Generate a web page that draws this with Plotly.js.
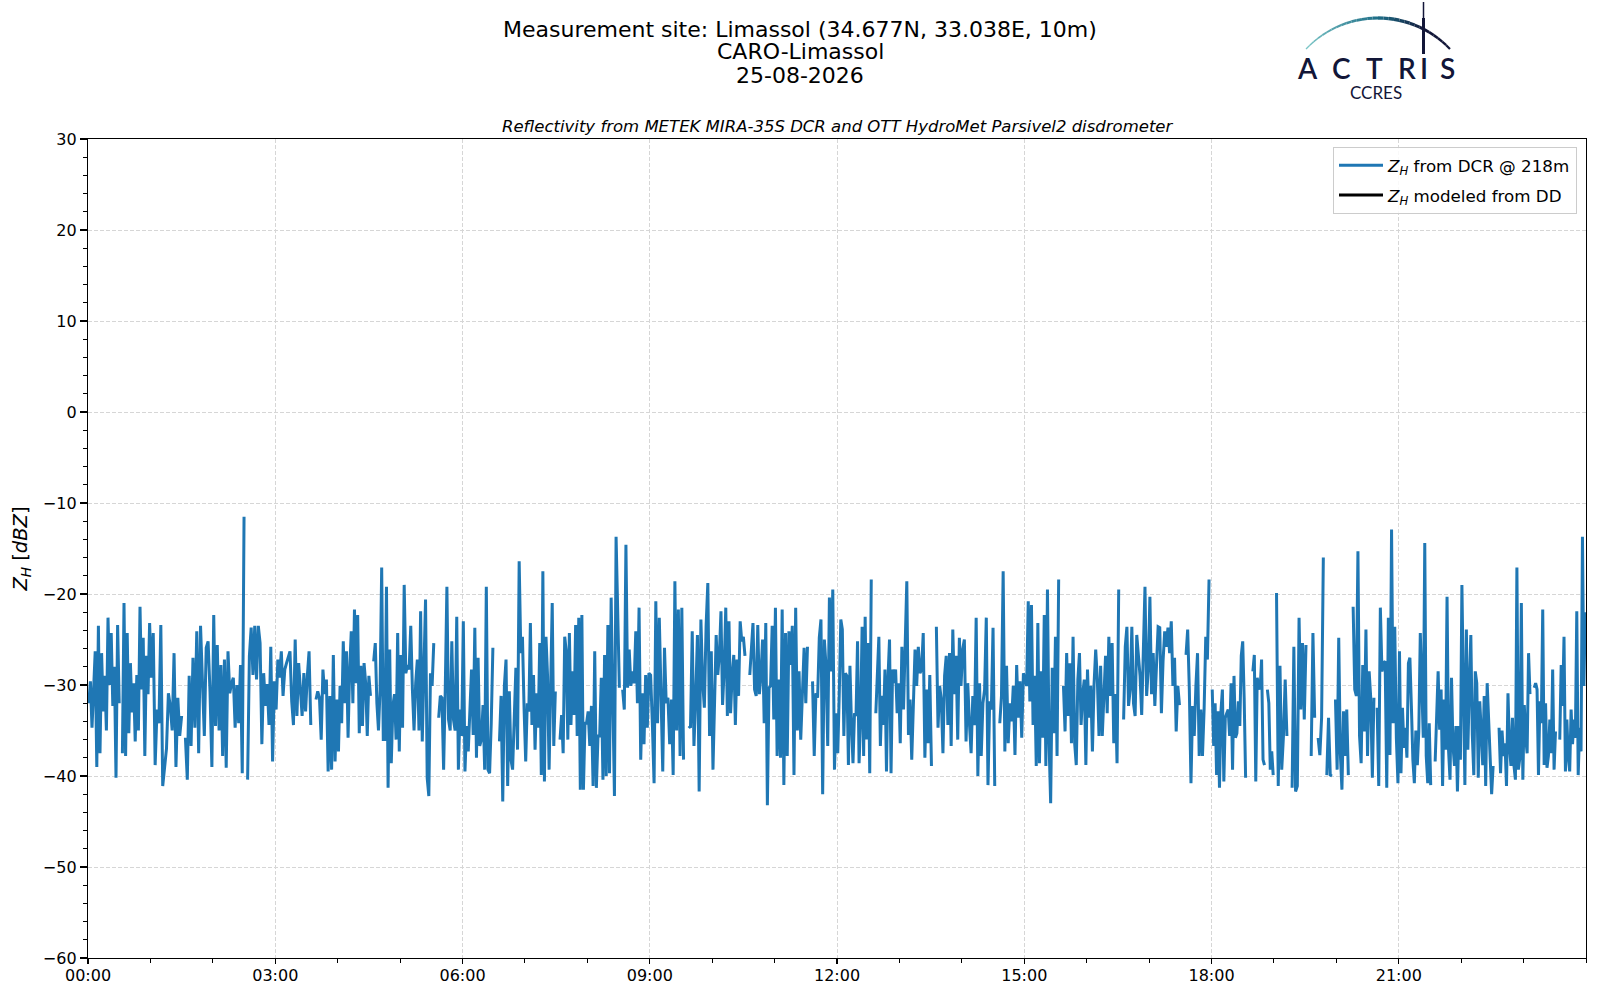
<!DOCTYPE html>
<html>
<head>
<meta charset="utf-8">
<script src="https://cdn.plot.ly/plotly-3.0.1.min.js"></script>
<style>html,body{margin:0;padding:0;background:#fff;}#chart{width:1600px;height:1000px;}</style>
</head>
<body>
<div id="chart"></div>
<script>
// ---- Data: Z_H from DCR @ 218m, one array per hour (dBZ), null = no data ----
const zh_h00 = [-32,-29.6,-34.7,-30.3,-26.3,-39,-23.5,-37.5,-26.5,-32.9,-29,-35,-22.6,-30,-24.3,-32.3,-28,-40.2,-23.4,-32,null,-37.5,-21,-37.8,-24.3,-35.3,-27.6,-33,-29.8,-36.2,-28.9,-35,-21.4,-30.5,-24.8,-37.8,-26.8,-31,-23.2];
const zh_h01 = [-29.2,-24.3,-38.8,-32.7,-34.2,-23.4,-41.1,-38.8,-37,-30.9,-32.3,-35,-26.5,-39,-31.4,-35.6,-33.4,null,-35.8,-40.4,-29,-36.7,-27,-34.7,-24.1,-37.5,-23.5,-29.4,-35.6,-25.9,-25.2,-30.7,-39];
const zh_h02 = [-22.3,-34.5,-25.6,-35,-27.8,-37.8,-27.2,-39.1,-26.3,-30.9,-29.8,-29.2,-34.7,-30,-34.2,-27.8,-39.7,-11.5,null,-40.4,-26.8,-23.7,-28.9,-23.5,-29.4,-23.5,-25.4,-36.5,-28.7,-32.3,-29.9,-34.4,-25.8,-38.4,-29.6];
const zh_h03 = [-32.7,-27.2,-29.2,-26.3,-31.2,-28.3,-27.6,-26.8,-26.3,-31.8,-34.4,-25,-33.4,-27.6,-30.5,-33.4,-28.7,-32.9,-29,-26.3,-34.4,null,null,-31.6,-30.7,-31.4,-36,-28.3,-31,-29.4,-39.5,-31.2,-39.3,-26.7,-38.4,-31.6];
const zh_h04 = [-37.3,-30.1,-34.2,-25.2,-32,-26.3,-35.8,-28.3,-24.1,-32,-21.7,-29.8,-22.3,-35.3,-27.9,-34.5,-27.6,-29.8,-35.6,-29,-31.2,null,-27.4,-25.4,-32,-35,-30.5,-17.1,-36,-36,-19.2,-41.3,-26.1,-38.6,-32.3,-31,-36,-24.3,-37.3];
const zh_h05 = [-26.7,-34.7,-19,-28.7,-27.8,-28.3,-23.5,-30.5,-35,-29.8,-27.2,-35,-21.9,-36.2,-29.4,-20.6,-40.2,-42.2,-28.7,-30.1,-25.4,null,null,-33.6,-31.2,-31.4,-39.3,-30.5,-19.2,-33.8,-35,-25.2,-33.8,-35,-22.5,-39.3,-32.7,-35.6];
const zh_h06 = [-23,-39.5,-34.5,-37.3,-32.5,-28.3,-35.5,-23.7,-38,-27,-36.7,-36,-32.2,-39.3,-19.2,-39.3,-39.7,-34.2,-25.9,null,null,null,-36.2,-31.2,-42.8,-30.1,-27.2,-41.1,-30.7,-38.2,-39.3,-32.7,-28.1,-37.1,-16.4,-26.5,-24.7,-32.7];
const zh_h07 = [-38.4,-32,-32.9,-23.2,-34.4,-28.9,-37.1,-30.9,-34.7,-25.4,-39.9,-17.5,-40.6,-24.7,-29,-39.3,-30.1,-21,-36.7,-30.7,null,null,-36,-33.3,-37.5,-24.7,-26.3,-36,-24.3,-34.4,-28.5,-33.3,-23.4,-35.6,-22.6,-41.5,-22.3,-41.5,-34.2,-34.2];
const zh_h08 = [-32.9,-36.7,-32.3,-41.1,-26.3,-41.3,-35.6,-35.6,-29.2,-40.4,-26.7,-40,-23.4,-39.7,-20.4,-30.3,-42.2,-13.7,-23.2,-30.3,null,-30.5,-32.7,-14.6,-30.3,-26.1,-30.1,-28.5,-29.8,-24.1,-32,-21.5,-38.2,-30.9,-36.5,-28.9,-34.7,-28.7];
const zh_h09 = [-28.9,-34.2,-40.8,-20.8,-34.2,-22.6,-32.7,-39.5,-25.9,-32,-31.4,-36.5,-31.6,-39.9,-18.6,-35,-21.7,-37.8,-21.5,-38.2,null,null,-34.5,-34.7,-24.1,-36.7,-31.4,-24.5,-41.7,-22.8,-29.6,-32.5,-23.5,-18.8,-35.6,-26.3];
const zh_h10 = [-39.3,-33.1,-24.5,-28.9,-26.7,-21.9,-32.2,-28.3,-21.5,-33.4,-23,-33.1,-28.9,-26.7,-34.4,-27.2,-31.2,-23,-25.2,-24.7,-26.8,null,null,-28.9,-25.8,-23.2,-30.5,-31.2,-23.4,-31,-28.9,-25,-34.2,-23.2,-43.2,-30.3,-30.1,-23.5,-33.8];
const zh_h11 = [-21.5,-37.8,-29.4,-38,-21.7,-41,-24.3,-37.8,-24.1,-27.8,-23.5,-39.9,-21.5,-35,-28.5,-36,-31.2,-25.9,-32,-25.8,null,null,-29.6,-37.8,-30.9,-31.4,-24.8,-22.8,-42,-25,-27.9,-36.7,-20.4,-28.5,-19.5,-39.3,-33.1];
const zh_h12 = [-37.5,-30.9,-22.8,-23.9,-35.6,-28.7,-29,-38.8,-27.9,-34.2,-38.6,-33.1,-33.4,-25.2,-38.6,-33.8,-23.6,-37.8,-22.5,-36,-25.4,-39.7,-18.4,null,null,-33.1,-29,-24.7,-36.7,-31.2,-34.4,-28.3,-39.5,-29.2,-25,-39.7,-28.3,-29.8,-28.3,-33.1,-29.8];
const zh_h13 = [-36.4,-25.8,-32.7,-25.6,-18.6,-35.5,-31.6,-38.2,-31.6,-26.1,-30.1,-25.8,-28.7,-28.3,-24.3,-38,-30.5,-36.4,-28.9,-38.9,null,null,-23.6,-34.7,-30.1,-31.6,-37.5,-29,-26.8,-34.4,-26.5,-36.7,-23.9,-31,-26.8,-36,-24.8,-30.1];
const zh_h14 = [-26.1,-25,-36.2,-29.8,-34.2,-37.5,-31.2,-34.4,-22.6,-40,-29.8,-37.8,-32,-30.5,-22.6,-41,-31.8,-32.7,-23.7,-41.1,null,null,-34.2,-31.2,-17.5,-37.3,-27.9,-36.4,-32,-34,-30.1,-37.7,-27.8,-33.6,-29.6,-35.8,-28.7];
const zh_h15 = [-29.4,-30.1,-20.8,-31.8,-21.2,-34.4,-29,-38.9,-23.2,-38.6,-28.5,-35.8,-22.3,-38.9,-19.5,-36.4,-43,-28.1,-35.3,-24.7,-37.8,-18.4,null,null,-30.1,-35.1,-26.5,-33.4,-27.6,-36.4,-24.7,-36.4,-38.8,-29.4,-26.5,-34.4,-31,-29.4,-38.8];
const zh_h16 = [-28.3,-33.6,-30.1,-37.3,-29.9,-26.1,-29.4,-35.6,-27.9,-35.6,-30.1,-26.8,-33.1,-24.7,-31.2,-25.4,-36.4,-31,-38.6,-19.5,null,null,-33.8,-25.8,-23.6,-32.3,-30.5,-23.6,-32,-33.4,-24.5,-26.5,-29,-33.3,-27.2,-19.2,-31.2,-28.3];
const zh_h17 = [-20.3,-31,-26.5,-32.3,-27.9,-23.6,-23.7,-33.1,-27.4,-24.1,-25.8,-23.7,-26.5,-23,-30.1,-27,-35.1,-30.1,-32.2,null,null,null,-26.7,-23.9,-30.5,-40.8,-32.3,-35.6,-30.1,-26.5,-37.8,-32.7,-37.8,-32.7,-24.7,-27.2,-18.4,null];
const zh_h18 = [-30.5,-36.7,-32,-39.9,-32.9,-41.3,-32.9,-30.5,-40.6,-33.6,-33.1,-32.7,-35.6,-29.8,-39.3,-29,-35.8,-35.3,-31.8,-34.5,-26.8,-25.2,-31.4,-40.2,null,null,null,null,-28.5,-26.7,-40.6,-29.2,-30.1,-30.5,-27.2,-38.2,-38.8,null,-30.5,-32,-39.3,-37.3,-39.9];
const zh_h19 = [null,-19.9,-41.1,-27.9,-39.3,-35.6,-29.4,-35.6,null,null,-41.3,-25.8,-41.7,-41.1,-22.6,-32.7,-25.4,-33.8,-25.6,null,null,-37.8,-24.3,-33.6,null,-35.8,-37.7,-33.6,-16,null,-39.9,-33.6,-39.9,-40,null,-31.6];
const zh_h20 = [-39.3,-24.8,-37.5,-41.5,-32.9,-37.8,-32.7,-39.9,null,null,-21.4,-30.5,-31.2,-15.3,-35.6,-38.6,-27.8,-35.1,-23.9,-37.8,-28.5,-31.4,-40.2,-31.4,null,-32.5,-41.1,-21.5,-28.5,-27.6,-27.4,-41.3,-22.6,-37.7,-12.9,-34.2,-23.6,-35.8,-40.8];
const zh_h21 = [-26.3,-39.7,-32.5,-36.9,-34.7,-38,-27.6,-27,-32.3,-38.2,-40.8,-35,-38.8,-35.1,-24.3,-31.2,-35.8,-14.4,-37.8,-40.8,-34.2,-41,null,null,-38.4,-33.6,-28.5,-34.9,-30.5,-41.1,-31.6,-37.1,-20.3,-37.1,-40.4,-29.2,-36.7,-38.9,-34.5,-41.7,-34.5,-38.2];
const zh_h22 = [-19,-30.5,-41,-23.9,-37.1,-30.1,-24.5,-35.5,-39.9,-28.5,-29.8,-40.2,-31.8,-35,-38.8,-31.2,-41.1,-29.8,-33.8,-37.8,-42,-38.9,null,null,null,-34.7,-39.7,-35,-37.8,-36.4,-41.1,-30.9,-36.7,-38.9,-33.6,-38.8,-40.4,-17.1,-39.3,-38,-21,-40.4];
const zh_h23 = [-32.2,-35.8,-37.5,-26.5,-31,null,null,-30.3,-29.8,-30.5,-39.9,-31.8,-34.2,-21.7,-38.8,-32,-39.1,-37.8,-33.8,-37.5,-28.3,-39.3,-35.1,null,null,-36,-27.8,-32.3,-24.7,-39.5,-33.8,-37.8,-39.5,-32.7,-36.5,-33.8,-35.8,-21.9,-39.9,-34.7,-37.3,-13.7,-30.1,-22];

// Modeled Z_H from disdrometer: no valid samples on this day
const zhDD = [];
const zhDDhours = [];

// Tick labels
const tickHours = [0, 3, 6, 9, 12, 15, 18, 21];
const tickLabels = ['00:00', '03:00', '06:00', '09:00', '12:00', '15:00', '18:00', '21:00'];
const yTicks = [-60, -50, -40, -30, -20, -10, 0, 10, 20, 30];

// ---- Build time axis (decimal hours) ----
const hourly = [zh_h00, zh_h01, zh_h02, zh_h03, zh_h04, zh_h05, zh_h06, zh_h07, zh_h08, zh_h09, zh_h10, zh_h11,
                zh_h12, zh_h13, zh_h14, zh_h15, zh_h16, zh_h17, zh_h18, zh_h19, zh_h20, zh_h21, zh_h22, zh_h23];
const tDCR = [], zDCR = [];
hourly.forEach((arr, h) => {
  const n = arr.length;
  arr.forEach((v, i) => { tDCR.push(h + (i + 0.5) / n); zDCR.push(v); });
});

// ---- Layout geometry ----
const W = 1600, H = 1000, L = 88, R = 14, T = 139, B = 42;
const PW = W - L - R, PH = H - T - B;
const px2x = px => (px - L) / PW;
const px2y = py => (H - B - py) / PH;

const FONT = 'DejaVu Sans';
const navy = '#121638';

const annotations = [
  {text: 'Measurement site: Limassol (34.677N, 33.038E, 10m)', x: px2x(800), y: px2y(29)},
  {text: 'CARO-Limassol', x: px2x(800), y: px2y(52)},
  {text: '25-08-2026', x: px2x(800), y: px2y(75)}
].map(a => Object.assign(a, {xref: 'paper', yref: 'paper', xanchor: 'center', yanchor: 'middle',
  showarrow: false, font: {family: FONT, size: 22, color: '#000'}}));

annotations.push({
  text: '<i>Reflectivity from METEK MIRA-35S DCR and OTT HydroMet Parsivel2 disdrometer</i>',
  x: 0.5, y: px2y(126), xref: 'paper', yref: 'paper', xanchor: 'center', yanchor: 'middle',
  showarrow: false, font: {family: FONT, size: 16.5, color: '#000'}
});

// Logo letters
const logoLetters = ['A', 'C', 'T', 'R', 'I', 'S'];
const logoX = [1307, 1341, 1374, 1407, 1424, 1447];
logoLetters.forEach((ch, i) => annotations.push({
  text: ch, x: px2x(logoX[i]), y: px2y(68), xref: 'paper', yref: 'paper',
  xanchor: 'center', yanchor: 'middle', showarrow: false,
  font: {family: 'Lato', size: 28, color: navy, weight: 600}
}));
annotations.push({
  text: 'CCRES', x: px2x(1376), y: px2y(93), xref: 'paper', yref: 'paper',
  xanchor: 'center', yanchor: 'middle', showarrow: false,
  font: {family: 'Lato', size: 17, color: navy}
});

// Logo arc (gradient approximated by segments)
const shapes = [];
function lerp(a, b, t) { return a + (b - a) * t; }
function mixColor(c1, c2, t) {
  const r = Math.round(lerp(c1[0], c2[0], t)), g = Math.round(lerp(c1[1], c2[1], t)), b = Math.round(lerp(c1[2], c2[2], t));
  return `rgb(${r},${g},${b})`;
}
const cA = [125, 200, 200], cB = [30, 110, 135], cC = [18, 22, 56];
const cx = 1378, cy = 117, rad = 99;
const a0 = Math.atan2(49 - cy, 1306 - cx), a1 = Math.atan2(49 - cy, 1450 - cx);
const NSEG = 30;
for (let k = 0; k < NSEG; k++) {
  const t0 = k / NSEG, t1 = (k + 1) / NSEG, tm = (t0 + t1) / 2;
  const ang0 = lerp(a0, a1, t0);
  const ang1 = lerp(a0, a1, t1);
  const col = tm < 0.5 ? mixColor(cA, cB, tm / 0.5) : mixColor(cB, cC, Math.min(1, (tm - 0.5) / 0.3));
  const wdt = tm < 0.6 ? lerp(1.2, 3.6, tm / 0.6) : lerp(3.6, 2.2, (tm - 0.6) / 0.4);
  shapes.push({type: 'line', xref: 'paper', yref: 'paper', layer: 'above',
    x0: px2x(cx + rad * Math.cos(ang0)), y0: px2y(cy + rad * Math.sin(ang0)),
    x1: px2x(cx + rad * Math.cos(ang1)), y1: px2y(cy + rad * Math.sin(ang1)),
    line: {color: col, width: wdt}});
}
shapes.push({type: 'line', xref: 'paper', yref: 'paper', x0: px2x(1423.5), x1: px2x(1423.5), y0: px2y(2), y1: px2y(18), line: {color: navy, width: 1.5}});
shapes.push({type: 'line', xref: 'paper', yref: 'paper', x0: px2x(1423.5), x1: px2x(1423.5), y0: px2y(18), y1: px2y(54), line: {color: navy, width: 3}});

const traces = [
  {x: tDCR, y: zDCR, type: 'scatter', mode: 'lines', connectgaps: false, legendgroup: 'dcr',
   name: '<i>Z</i><sub><i>H</i></sub> from DCR @ 218m', line: {color: '#1f77b4', width: 3}},
  {x: zhDDhours.length ? zhDDhours : [0], y: zhDD.length ? zhDD : [null], type: 'scatter', mode: 'lines', legendgroup: 'dd',
   name: '<i>Z</i><sub><i>H</i></sub> modeled from DD', line: {color: '#000000', width: 3}}
];

const axisCommon = {
  showline: true, mirror: true, linecolor: '#000', linewidth: 1.2,
  ticks: 'outside', tickcolor: '#000', tickwidth: 1.2,
  showgrid: true, gridcolor: '#d6d6d6', griddash: '4px,2px', gridwidth: 1,
  zeroline: false, tickfont: {family: FONT, size: 16, color: '#000'}
};

const layout = {
  width: W, height: H, paper_bgcolor: '#fff', plot_bgcolor: '#fff',
  margin: {l: L, r: R, t: T, b: B, pad: 0},
  font: {family: FONT, color: '#000'},
  showlegend: true,
  legend: {x: px2x(1577), y: px2y(147), xanchor: 'right', yanchor: 'top',
    bgcolor: 'rgba(255,255,255,0.85)', bordercolor: '#cccccc', borderwidth: 1,
    font: {family: FONT, size: 16.7, color: '#000'}, tracegroupgap: 5, itemwidth: 44},
  xaxis: Object.assign({}, axisCommon, {
    range: [0, 24], tickmode: 'array', tickvals: tickHours, ticktext: tickLabels, ticklen: 5, ticklabelstandoff: -2,
    minor: {tickmode: 'linear', tick0: 0, dtick: 1, ticklen: 3.5, tickcolor: '#000', tickwidth: 1, showgrid: false}
  }),
  yaxis: Object.assign({}, axisCommon, {
    range: [-60, 30], tickmode: 'array', tickvals: yTicks, ticklen: 7,
    minor: {tickmode: 'linear', tick0: 0, dtick: 2, ticklen: 4, tickcolor: '#000', tickwidth: 1, showgrid: false},
    title: {text: '<i>Z</i><sub><i>H</i></sub> [<i>dBZ</i>]', font: {family: FONT, size: 19.5, color: '#000'}, standoff: 10}
  }),
  annotations: annotations,
  shapes: shapes
};

Plotly.newPlot('chart', traces, layout, {staticPlot: true, displayModeBar: false});
</script>
</body>
</html>
